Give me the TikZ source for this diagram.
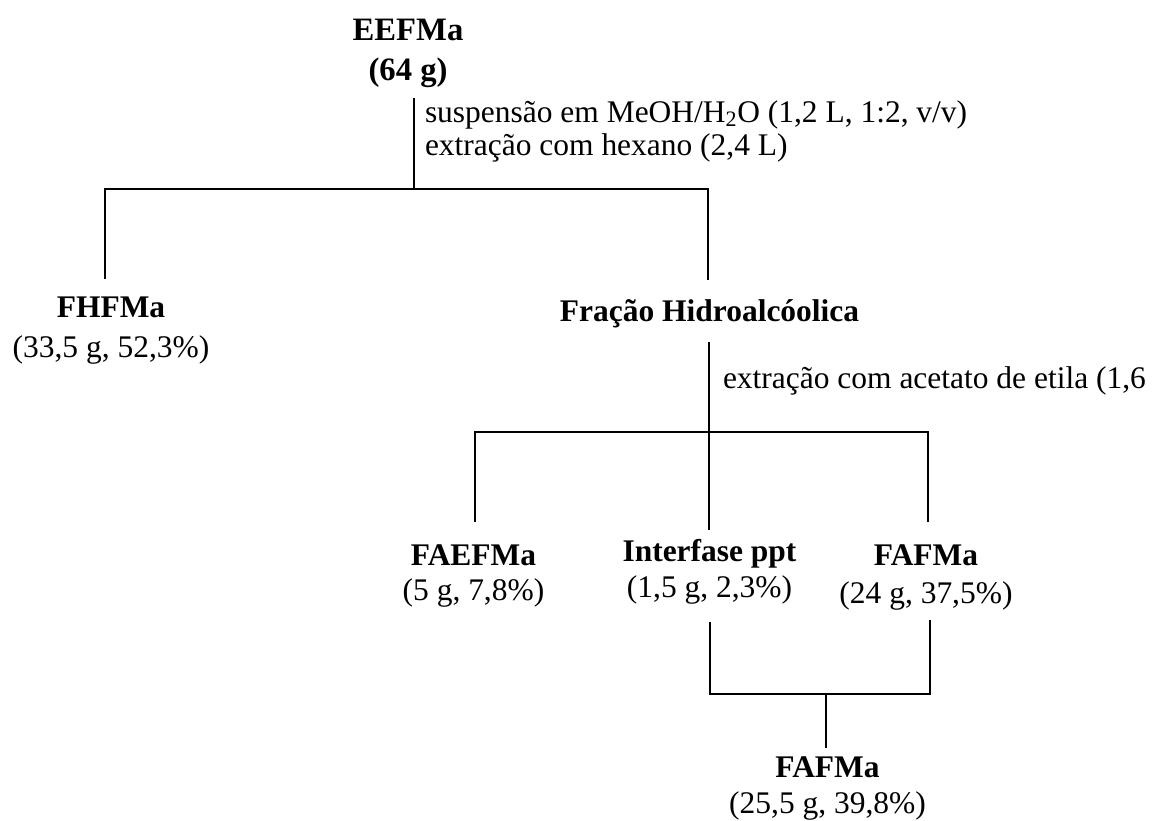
\documentclass[tikz,border=0pt]{standalone}
\usepackage{fontspec}
\setmainfont{Liberation Serif}
\newcommand{\lblfont}{\fontsize{23.6pt}{28pt}\selectfont}
\newcommand{\titlefont}{\fontsize{24.5pt}{29pt}\selectfont}
\begin{document}
\begin{tikzpicture}[x=0.75pt,y=-0.75pt,line width=1.5pt,
  every node/.style={font=\lblfont, inner sep=0pt},
  lbl/.style={anchor=base},
  ttl/.style={anchor=base, font=\titlefont},
  note/.style={anchor=base west},
  conn/.style={draw=black, line width=1.5pt}]
\useasboundingbox (0,0) rectangle (1157,821);

% top node
\node[ttl] (eefma)  at (408,40) {\textbf{EEFMa}};
\node[ttl] (eefmaM) at (408,80) {\textbf{(64 g)}};
\node[note] (n1a) at (424,122) {suspensão em MeOH/H\textsubscript{2}O (1,2 L, 1:2, v/v)};
\node[note] (n1b) at (424,155) {extração com hexano (2,4 L)};

\coordinate (a0) at (414,98);
\coordinate (a1) at (414,189);
\coordinate (hl) at (105,189);
\coordinate (hr) at (708,189);
\coordinate (fhTop) at (105,279);
\coordinate (frTop) at (708,280);
\draw[conn] (a0) -- (a1);
\draw[conn] (fhTop) -- (hl) -- (hr) -- (frTop);

% second level
\node[lbl] (fhfma)  at (111,317) {\textbf{FHFMa}};
\node[lbl] (fhfmaM) at (111,357) {(33,5 g, 52,3\%)};
\node[lbl] (frac)   at (709.5,321) {\textbf{Fração Hidroalcóolica}};

\coordinate (b0) at (709,342);
\coordinate (b1) at (709,432);
\coordinate (gl) at (475,432);
\coordinate (gr) at (928,432);
\coordinate (faeTop) at (475,522);
\coordinate (intTop) at (709,530);
\coordinate (fafTop) at (928,522);
\draw[conn] (b0) -- (intTop);
\draw[conn] (faeTop) -- (gl) -- (gr) -- (fafTop);
\node[note] (n2) at (722,388) {extração com acetato de etila (1,6};

% third level
\node[lbl] (faefma)  at (473.5,565) {\textbf{FAEFMa}};
\node[lbl] (faefmaM) at (473.5,600) {(5 g, 7,8\%)};
\node[lbl] (inter)   at (709.5,561) {\textbf{Interfase ppt}};
\node[lbl] (interM)  at (709.5,597) {(1,5 g, 2,3\%)};
\node[lbl] (fafma)   at (926,565) {\textbf{FAFMa}};
\node[lbl] (fafmaM)  at (926,603) {(24 g, 37,5\%)};

\coordinate (c0) at (710,622);
\coordinate (cl) at (710,694);
\coordinate (cr) at (930,694);
\coordinate (c1) at (930,620);
\coordinate (cm) at (826,694);
\coordinate (cmb) at (826,748);
\draw[conn] (c0) -- (cl) -- (cr) -- (c1);
\draw[conn] (cm) -- (cmb);

% final
\node[lbl] (fafmb)  at (827.5,777) {\textbf{FAFMa}};
\node[lbl] (fafmbM) at (827.5,813) {(25,5 g, 39,8\%)};
\end{tikzpicture}
\end{document}
